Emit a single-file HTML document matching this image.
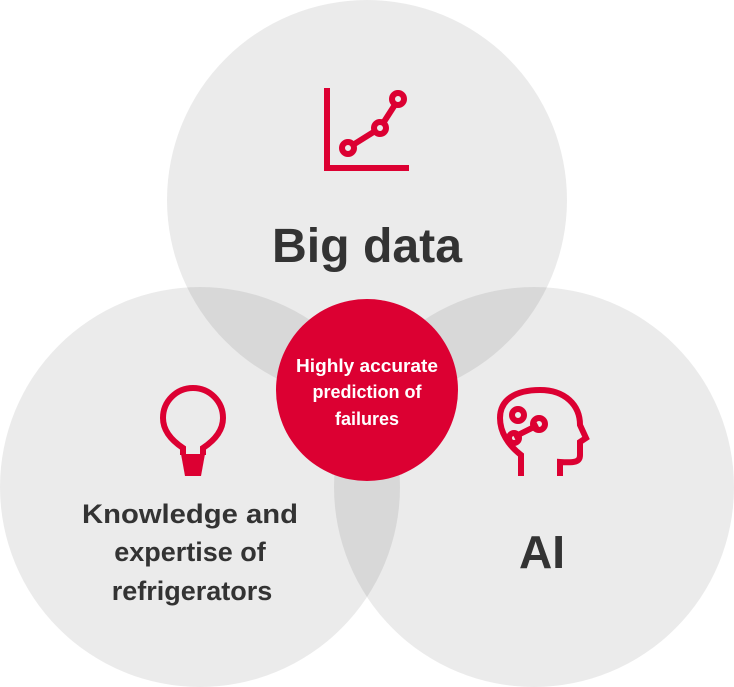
<!DOCTYPE html>
<html><head><style>body{margin:0;background:#fff}svg{display:block}</style></head><body>
<svg width="734" height="687" viewBox="0 0 734 687" xmlns="http://www.w3.org/2000/svg" font-family="Liberation Sans, sans-serif" font-weight="bold">
<g fill="#000" fill-opacity="0.08">
<circle cx="367" cy="200" r="200"/>
<circle cx="200" cy="487" r="200"/>
<circle cx="534" cy="487" r="200"/>
</g>
<circle cx="367" cy="390" r="91" fill="#dc0032"/>
<g fill="none" stroke="#dc0032" stroke-width="6">
<polyline points="327,88 327,168 409,168"/>
<line x1="348" y1="148" x2="380" y2="128"/>
<line x1="380" y1="128" x2="398" y2="100"/>
<circle cx="348" cy="148" r="6" fill="#ebebeb"/>
<circle cx="380" cy="128" r="6" fill="#ebebeb"/>
<circle cx="398" cy="99" r="6" fill="#ebebeb"/>
<path d="M183,455 L183,448 C168,438 163,428 163,418 A30,30 0 1 1 223,418 C223,428 218,438 203,448 L203,455"/>
<path d="M521,476 L521,455 C508,445 500,432 500,418 C500,400 515,390 540,390 C565,390 580,405 580,425 L586,438 L580,442 L580,455 C580,462 575,463 560,462 L560,476"/>
<line x1="514" y1="437" x2="538" y2="425"/>
<circle cx="518" cy="415" r="6"/>
<circle cx="539" cy="424" r="6"/>
<circle cx="514" cy="438" r="5"/>
</g>
<path d="M181,454 L205,454 L201,476 L185,476 Z" fill="#dc0032"/>
<g fill="#333" text-anchor="middle">
<text x="367" y="262" font-size="48" textLength="190" lengthAdjust="spacingAndGlyphs">Big data</text>
<text x="542" y="568" font-size="46">AI</text>
<text x="190" y="523" font-size="27" textLength="216" lengthAdjust="spacingAndGlyphs">Knowledge and</text>
<text x="190" y="561" font-size="27">expertise of</text>
<text x="192" y="600" font-size="27">refrigerators</text>
</g>
<g fill="#fff" text-anchor="middle" font-size="18">
<text x="367" y="372" textLength="142" lengthAdjust="spacingAndGlyphs">Highly accurate</text>
<text x="367" y="398">prediction of</text>
<text x="367" y="425">failures</text>
</g>
</svg>
</body></html>
